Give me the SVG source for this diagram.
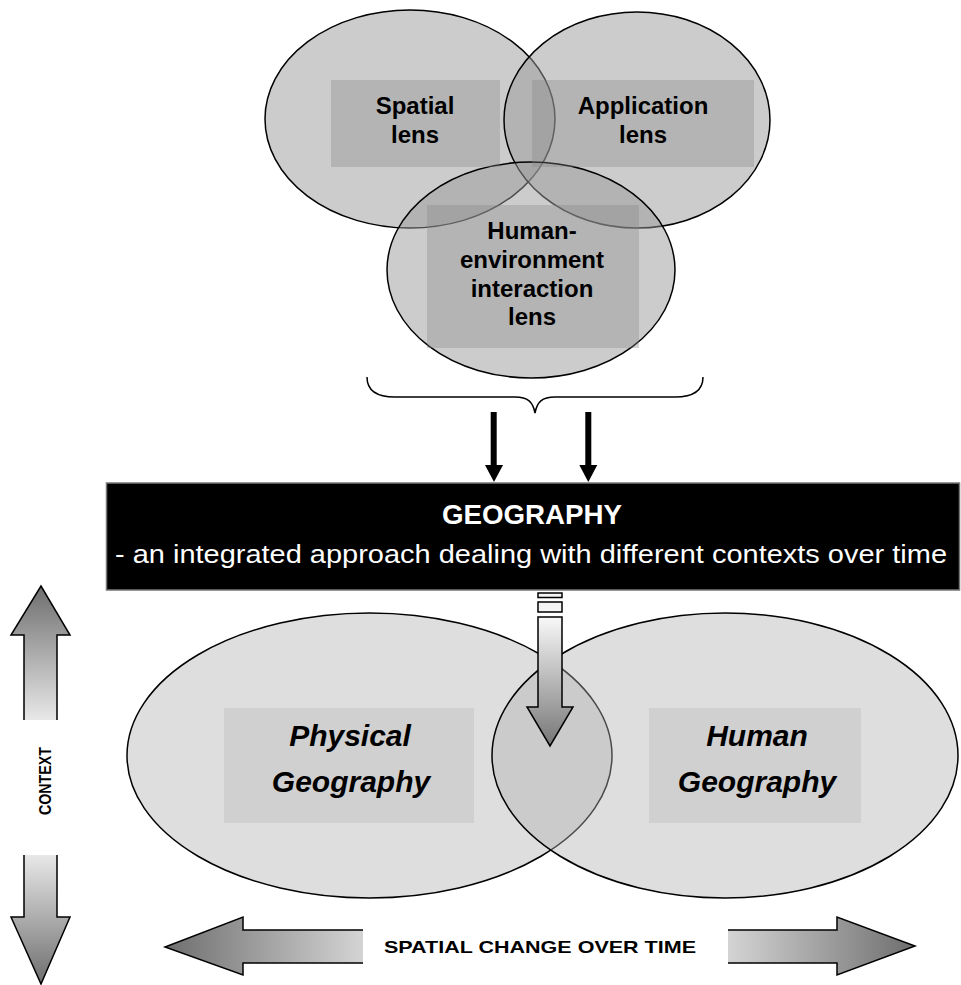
<svg xmlns="http://www.w3.org/2000/svg" width="961" height="985" viewBox="0 0 961 985">
<defs>
<style>
.lensEl{fill:#999999;fill-opacity:0.5;stroke:#000;stroke-width:1.5}
.lensRect{fill:#888888;fill-opacity:0.35}
.lensTxt{font-family:"Liberation Sans",Arial,sans-serif;font-weight:bold;font-size:24px;fill:#000;text-anchor:middle}
.geoEl{fill:#b0b0b0;fill-opacity:0.42;stroke:#000;stroke-width:1.5}
.geoRect{fill:#d0d0d0}
.geoTxt{font-family:"Liberation Sans",Arial,sans-serif;font-weight:bold;font-style:italic;font-size:30px;fill:#000;text-anchor:middle}
.lbl{font-family:"Liberation Sans",Arial,sans-serif;font-weight:bold;fill:#000}
.garrow{stroke:#000;stroke-width:1.5;stroke-linejoin:miter}
.blk{fill:#000}
</style>
<linearGradient id="gUp" x1="0" y1="0" x2="0" y2="1">
<stop offset="0" stop-color="#6e6e6e"/><stop offset="1" stop-color="#e8e8e8"/>
</linearGradient>
<linearGradient id="gDown" x1="0" y1="0" x2="0" y2="1">
<stop offset="0" stop-color="#e8e8e8"/><stop offset="1" stop-color="#6e6e6e"/>
</linearGradient>
<linearGradient id="gLeft" x1="0" y1="0" x2="1" y2="0">
<stop offset="0" stop-color="#6e6e6e"/><stop offset="1" stop-color="#d4d4d4"/>
</linearGradient>
<linearGradient id="gRight" x1="0" y1="0" x2="1" y2="0">
<stop offset="0" stop-color="#d4d4d4"/><stop offset="1" stop-color="#6e6e6e"/>
</linearGradient>
<linearGradient id="gCenter" x1="0" y1="0" x2="0" y2="1">
<stop offset="0" stop-color="#f8f8f8"/><stop offset="1" stop-color="#767676"/>
</linearGradient>
</defs>
<rect width="961" height="985" fill="#fff"/>

<g id="spatial-lens">
<ellipse class="lensEl" cx="410" cy="119" rx="145" ry="109"/>
</g>
<g id="application-lens">
<ellipse class="lensEl" cx="637" cy="120" rx="133" ry="108"/>
</g>
<g id="human-environment-lens">
<ellipse class="lensEl" cx="531" cy="270" rx="144" ry="108"/>
</g>
<g id="lens-labels">
<rect class="lensRect" x="331" y="80" width="169" height="87"/>
<text class="lensTxt" x="415" y="114">Spatial</text>
<text class="lensTxt" x="415" y="143">lens</text>
<rect class="lensRect" x="532" y="80" width="222" height="87"/>
<text class="lensTxt" x="643" y="114">Application</text>
<text class="lensTxt" x="643" y="143">lens</text>
<rect class="lensRect" x="427" y="205" width="212" height="143"/>
<text class="lensTxt" x="532" y="239">Human-</text>
<text class="lensTxt" x="532" y="268">environment</text>
<text class="lensTxt" x="532" y="297">interaction</text>
<text class="lensTxt" x="532" y="325">lens</text>
</g>

<g id="connectors">
<path d="M367 377 C367 390 375 397 395 397 L515 397 C528 397 533 402 535 413 C537 402 542 397 555 397 L675 397 C695 397 703 390 703 377" fill="none" stroke="#000" stroke-width="1.5"/>
<rect class="blk" x="490.7" y="412" width="6" height="54"/>
<polygon class="blk" points="485,465 503,465 494,482"/>
<rect class="blk" x="585.3" y="412" width="6" height="54"/>
<polygon class="blk" points="579.3,465 597.3,465 588.3,482"/>
</g>

<g id="geography">
<rect x="106.5" y="483" width="853" height="107" fill="#000" stroke="#777" stroke-width="1.5"/>
<text class="lbl" x="532" y="524" font-size="28" style="fill:#fff" text-anchor="middle" textLength="180" lengthAdjust="spacingAndGlyphs">GEOGRAPHY</text>
<text x="531" y="563" font-family="Liberation Sans, Arial, sans-serif" font-size="26" fill="#fff" text-anchor="middle" textLength="832" lengthAdjust="spacingAndGlyphs">- an integrated approach dealing with different contexts over time</text>
</g>

<g id="physical-geography">
<ellipse class="geoEl" cx="369.5" cy="755.5" rx="242.5" ry="142.5"/>
<rect class="geoRect" x="224" y="708" width="250" height="115"/>
<text class="geoTxt" x="350" y="746">Physical</text>
<text class="geoTxt" x="351" y="792">Geography</text>
</g>
<g id="human-geography">
<ellipse class="geoEl" cx="725" cy="755.5" rx="233" ry="142.5"/>
<rect class="geoRect" x="649" y="708" width="212" height="115"/>
<text class="geoTxt" x="757" y="746">Human</text>
<text class="geoTxt" x="757" y="792">Geography</text>
</g>

<g id="center-arrow">
<rect x="538" y="593" width="24" height="4.5" fill="#f4f4f4" stroke="#000" stroke-width="1.5"/>
<rect x="538" y="602" width="24" height="10" fill="#f4f4f4" stroke="#000" stroke-width="1.5"/>
<path class="garrow" d="M538 617 L562 617 L562 707 L573 707 L550 746 L527 707 L538 707 Z" fill="url(#gCenter)"/>
</g>

<g id="context">
<path class="garrow" d="M24 720 L24 635 L11 635 L41 586 L70 635 L57 635 L57 720" fill="url(#gUp)"/>
<path class="garrow" d="M24 855 L24 917 L11 917 L41 984 L70 917 L57 917 L57 855" fill="url(#gDown)"/>
<text class="lbl" font-size="17" text-anchor="middle" textLength="68" lengthAdjust="spacingAndGlyphs" transform="translate(51,781) rotate(-90)">CONTEXT</text>
</g>

<g id="spatial-change">
<path class="garrow" d="M363 930 L243 930 L243 917 L165 947 L243 975 L243 963 L363 963" fill="url(#gLeft)"/>
<path class="garrow" d="M728 930 L837 930 L837 917 L915 946 L837 975 L837 963 L728 963" fill="url(#gRight)"/>
<text class="lbl" x="540" y="953" font-size="17" text-anchor="middle" textLength="312" lengthAdjust="spacingAndGlyphs">SPATIAL CHANGE OVER TIME</text>
</g>
</svg>
